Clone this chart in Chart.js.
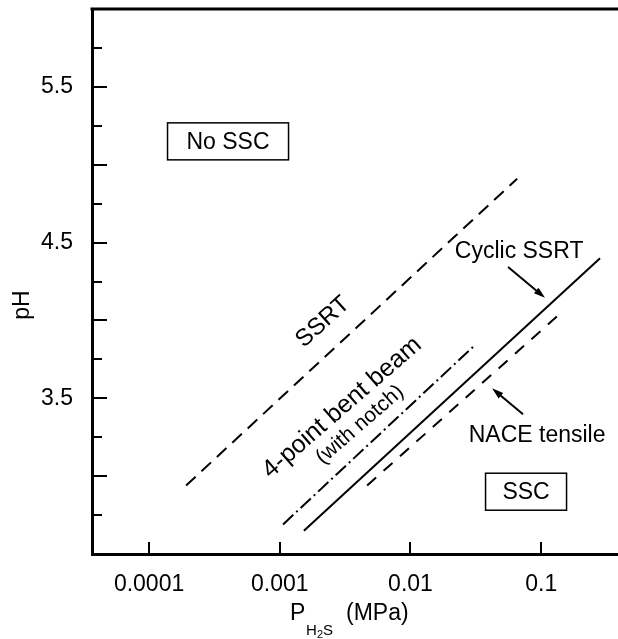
<!DOCTYPE html>
<html>
<head>
<meta charset="utf-8">
<script src="https://cdn.jsdelivr.net/npm/chart.js@4"></script>
<style>
html, body { margin: 0; padding: 0; background: #fff; }
</style>
</head>
<body>
<canvas id="myChart" width="618" height="639"></canvas>
<script>
// Limites SSC : pression H2S (MPa) et pH
const ssrtP = [0.000192, 0.0655];
const ssrtPH = [2.94, 4.91];
const beamP = [0.00106, 0.0301];
const beamPH = [2.69, 3.83];
const cyclicP = [0.00153, 0.282];
const cyclicPH = [2.65, 4.40];
const naceP = [0.00466, 0.147];
const nacePH = [2.94, 4.06];

// Graduations
const xTicks = [0.0001, 0.001, 0.01, 0.1];
const xTickLabels = ['0.0001', '0.001', '0.01', '0.1'];
const yLabelled = [3.5, 4.5, 5.5];

const FONT = '"Liberation Sans", Arial, Helvetica, sans-serif';

function pts(xs, ys) {
    return xs.map((v, i) => ({ x: v, y: ys[i] }));
}

// Texte et flèches, placés en coordonnées de données
const labels = [
    { t: 'SSRT', x: 0.00214, y: 3.99, rot: -42, size: 24 },
    { t: '4-point bent beam', x: 0.00300, y: 3.44, rot: -41, size: 25 },
    { t: '(with notch)', x: 0.00411, y: 3.33, rot: -41, size: 21 },
    { t: 'Cyclic SSRT', x: 0.0678, y: 4.44, rot: 0, size: 23 },
    { t: 'NACE tensile', x: 0.0931, y: 3.26, rot: 0, size: 23 }
];
const boxes = [
    { t: 'No SSC', x: 0.000402, y: 5.15, w: 121, h: 37 },
    { t: 'SSC', x: 0.0766, y: 2.90, w: 81, h: 37 }
];
const arrows = [
    { x1: 0.0558, y1: 4.343, x2: 0.107, y2: 4.145 },
    { x1: 0.0726, y1: 3.398, x2: 0.0421, y2: 3.564 }
];

const decor = {
    id: 'decor',
    afterDraw(chart) {
        const { ctx, chartArea: a } = chart;
        const x = chart.scales.x, y = chart.scales.y;
        ctx.save();
        ctx.strokeStyle = '#000';
        ctx.fillStyle = '#000';

        // ligne du haut
        ctx.lineWidth = 3;
        ctx.beginPath();
        ctx.moveTo(a.left - 1.5, a.top);
        ctx.lineTo(a.right, a.top);
        ctx.stroke();

        // graduations vers l'intérieur
        ctx.lineWidth = 2;
        y.ticks.forEach(t => {
            const py = Math.round(y.getPixelForValue(t.value));
            if (py < a.top + 5 || py > a.bottom - 5) return;
            const major = Math.abs(t.value * 2 - Math.round(t.value * 2)) < 1e-6;
            ctx.beginPath();
            ctx.moveTo(a.left, py);
            ctx.lineTo(a.left + (major ? 15 : 10), py);
            ctx.stroke();
        });
        x.ticks.forEach(t => {
            const px = Math.round(x.getPixelForValue(t.value));
            ctx.beginPath();
            ctx.moveTo(px, a.bottom);
            ctx.lineTo(px, a.bottom - 12);
            ctx.stroke();
        });

        ctx.textAlign = 'center';
        ctx.textBaseline = 'middle';
        labels.forEach(l => {
            ctx.save();
            ctx.translate(x.getPixelForValue(l.x), y.getPixelForValue(l.y));
            ctx.rotate(l.rot * Math.PI / 180);
            ctx.font = l.size + 'px ' + FONT;
            ctx.fillText(l.t, 0, 0);
            ctx.restore();
        });

        ctx.lineWidth = 1.5;
        boxes.forEach(b => {
            const cx = x.getPixelForValue(b.x), cy = y.getPixelForValue(b.y);
            ctx.strokeRect(cx - b.w / 2, cy - b.h / 2, b.w, b.h);
            ctx.font = '23px ' + FONT;
            ctx.fillText(b.t, cx, cy + 1);
        });

        ctx.lineWidth = 2;
        arrows.forEach(r => {
            const x1 = x.getPixelForValue(r.x1), y1 = y.getPixelForValue(r.y1);
            const x2 = x.getPixelForValue(r.x2), y2 = y.getPixelForValue(r.y2);
            const ang = Math.atan2(y2 - y1, x2 - x1);
            ctx.beginPath();
            ctx.moveTo(x1, y1);
            ctx.lineTo(x2 - 6 * Math.cos(ang), y2 - 6 * Math.sin(ang));
            ctx.stroke();
            ctx.beginPath();
            ctx.moveTo(x2, y2);
            ctx.lineTo(x2 - 12 * Math.cos(ang - 0.3), y2 - 12 * Math.sin(ang - 0.3));
            ctx.lineTo(x2 - 12 * Math.cos(ang + 0.3), y2 - 12 * Math.sin(ang + 0.3));
            ctx.closePath();
            ctx.fill();
        });

        // titres des axes
        ctx.save();
        ctx.translate(23, 305);
        ctx.rotate(-Math.PI / 2);
        ctx.font = '23px ' + FONT;
        ctx.fillText('pH', 0, 0);
        ctx.restore();

        ctx.textAlign = 'left';
        ctx.textBaseline = 'alphabetic';
        ctx.font = '23px ' + FONT;
        ctx.fillText('P', 290, 620);
        ctx.font = '15px ' + FONT;
        ctx.fillText('H', 306, 635);
        ctx.font = '11px ' + FONT;
        ctx.fillText('2', 317, 638);
        ctx.font = '15px ' + FONT;
        ctx.fillText('S', 323, 635);
        ctx.font = '23px ' + FONT;
        ctx.fillText('(MPa)', 346, 620);
        ctx.restore();
    }
};

const ctx = document.getElementById('myChart').getContext('2d');
const myChart = new Chart(ctx, {
    type: 'scatter',
    data: {
        datasets: [
            { label: 'SSRT', data: pts(ssrtP, ssrtPH), borderDash: [13, 8] },
            { label: '4-point bent beam', data: pts(beamP, beamPH), borderDash: [14, 4, 2, 4] },
            { label: 'Cyclic SSRT', data: pts(cyclicP, cyclicPH), borderDash: [] },
            { label: 'NACE tensile', data: pts(naceP, nacePH), borderDash: [12, 10] }
        ].map(d => Object.assign(d, {
            showLine: true,
            borderColor: '#000',
            borderWidth: 2,
            pointRadius: 0,
            pointHoverRadius: 0
        }))
    },
    options: {
        responsive: false,
        animation: false,
        devicePixelRatio: 1,
        layout: { padding: { top: 9, right: 0, left: 0, bottom: 0 } },
        plugins: { legend: { display: false }, tooltip: { enabled: false } },
        scales: {
            x: {
                type: 'logarithmic',
                min: 0.0000366,
                max: 0.387,
                grid: { display: false },
                border: { display: true, color: '#000', width: 3 },
                afterBuildTicks: s => { s.ticks = xTicks.map(v => ({ value: v })); },
                afterFit: s => { s.height = 85; s.paddingLeft = 0; s.paddingRight = 0; },
                ticks: {
                    autoSkip: false,
                    maxRotation: 0,
                    padding: 9,
                    color: '#000',
                    font: { family: FONT, size: 23 },
                    callback: (v, i) => xTickLabels[i]
                }
            },
            y: {
                min: 2.5,
                max: 6.0,
                grid: { display: false },
                border: { display: true, color: '#000', width: 3 },
                afterFit: s => { s.width = 92; s.paddingTop = 0; s.paddingBottom = 0; },
                ticks: {
                    stepSize: 0.25,
                    autoSkip: false,
                    padding: 11,
                    color: '#000',
                    font: { family: FONT, size: 23 },
                    callback: v => yLabelled.includes(v) ? v.toFixed(1) : ''
                }
            }
        }
    },
    plugins: [decor]
});
</script>
</body>
</html>
